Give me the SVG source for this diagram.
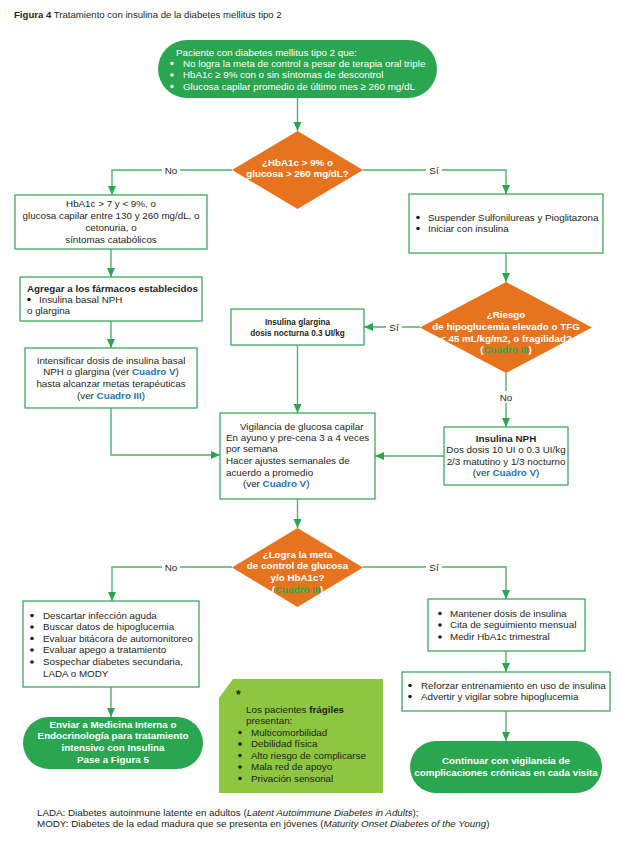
<svg xmlns="http://www.w3.org/2000/svg" width="622" height="847" viewBox="0 0 622 847">
<style>
text{font-family:"Liberation Sans",Arial,sans-serif;font-size:9.8px;fill:#231f20}
.t{font-size:9.6px}
.w{fill:#ffffff}
.b{font-weight:bold}
.c{text-anchor:middle}
.blue{fill:#1c75bc;font-weight:bold}
.grn{fill:#2fa84f;font-weight:bold}
.box{fill:#ffffff;stroke:#3daa5c;stroke-width:1.3}
.pill{fill:#2aa650}
.dia{fill:#e8731f}
.lime{fill:#8dc63f}
.con{fill:none;stroke:#4cb46a;stroke-width:1.4}
.dot{fill:#231f20}
.wdot{fill:#ffffff}
</style>
<defs>
<marker id="ah" markerUnits="userSpaceOnUse" markerWidth="10" markerHeight="10" viewBox="0 0 10 10" refX="9" refY="5" orient="auto">
<path d="M0,1 L9,5 L0,9 Z" fill="#2aa650"/>
</marker>
</defs>
<text class="t" x="14" y="18"><tspan class="b">Figura 4</tspan> Tratamiento con insulina de la diabetes mellitus tipo 2</text>

<g id="connectors">
<path class="con" d="M297.5,98 V131" marker-end="url(#ah)"/>
<path class="con" d="M232,170 H180 M162,170 H112 V195" marker-end="url(#ah)"/>
<path class="con" d="M363,170 H426 M442,170 H506 V194" marker-end="url(#ah)"/>
<path class="con" d="M111,249 V277" marker-end="url(#ah)"/>
<path class="con" d="M111,321 V348" marker-end="url(#ah)"/>
<path class="con" d="M506,253 V282" marker-end="url(#ah)"/>
<path class="con" d="M420,327 H402 M386,327 H364" marker-end="url(#ah)"/>
<path class="con" d="M506,373 V391 M506,403 V427" marker-end="url(#ah)"/>
<path class="con" d="M297.5,345 V413" marker-end="url(#ah)"/>
<path class="con" d="M111,408 V455 H220" marker-end="url(#ah)"/>
<path class="con" d="M444,456 H375" marker-end="url(#ah)"/>
<path class="con" d="M297.5,499 V528" marker-end="url(#ah)"/>
<path class="con" d="M232,567 H180 M162,567 H112 V601" marker-end="url(#ah)"/>
<path class="con" d="M363,567 H426 M442,567 H506 V599" marker-end="url(#ah)"/>
<path class="con" d="M506,651 V672" marker-end="url(#ah)"/>
<path class="con" d="M506,711 V741" marker-end="url(#ah)"/>
<path class="con" d="M111,687 V717" marker-end="url(#ah)"/>
<text class="c" x="171" y="173.5">No</text>
<text class="c" x="434" y="173.5">Sí</text>
<text class="c" x="394" y="330.5">Sí</text>
<text class="c" x="506" y="400.5">No</text>
<text class="c" x="171" y="570.5">No</text>
<text class="c" x="434" y="570.5">Sí</text>
</g>

<g id="start">
<rect class="pill" x="158" y="40" width="279" height="58" rx="29"/>
<text class="w" x="176" y="55.5">Paciente con diabetes mellitus tipo 2 que:</text>
<circle class="wdot" cx="172" cy="63.5" r="1.8"/>
<circle class="wdot" cx="172" cy="75" r="1.8"/>
<circle class="wdot" cx="172" cy="86.5" r="1.8"/>
<text class="w" x="183" y="66.5">No logra la meta de control a pesar de terapia oral triple</text>
<text class="w" x="183" y="78">HbA1c ≥ 9% con o sin síntomas de descontrol</text>
<text class="w" x="183" y="89.5">Glucosa capilar promedio de último mes ≥ 260 mg/dL</text>
</g>

<g id="d1">
<polygon class="dia" points="297.5,131 363,170 297.5,209 232,170"/>
<text class="w b c" x="297.5" y="165.5">¿HbA1c &gt; 9% o</text>
<text class="w b c" x="297.5" y="177">glucosa &gt; 260 mg/dL?</text>
</g>

<g id="no1">
<rect class="box" x="15" y="195" width="192" height="54"/>
<text class="c" x="111" y="207">HbA1c &gt; 7 y &lt; 9%, o</text>
<text class="c" x="111" y="219">glucosa capilar entre 130 y 260 mg/dL, o</text>
<text class="c" x="111" y="231">cetonuria, o</text>
<text class="c" x="111" y="242.5">síntomas catabólicos</text>
</g>

<g id="si1">
<rect class="box" x="409" y="194" width="194" height="59"/>
<circle class="dot" cx="418" cy="217.5" r="1.8"/>
<circle class="dot" cx="418" cy="228.5" r="1.8"/>
<text x="428" y="220.5">Suspender Sulfonilureas y Pioglitazona</text>
<text x="428" y="231.5">Iniciar con insulina</text>
</g>

<g id="agregar">
<rect class="box" x="20" y="277" width="182" height="44"/>
<text class="b" x="27" y="291.5">Agregar a los fármacos establecidos</text>
<circle class="dot" cx="29" cy="299.5" r="1.8"/>
<text x="39" y="302.5">Insulina basal NPH</text>
<text x="27" y="314">o glargina</text>
</g>

<g id="intensificar">
<rect class="box" x="25" y="348" width="172" height="60"/>
<text class="c" x="111" y="363.5">Intensificar dosis de insulina basal</text>
<text class="c" x="111" y="375">NPH o glargina (ver <tspan class="blue">Cuadro V</tspan>)</text>
<text class="c" x="111" y="387">hasta alcanzar metas terapéuticas</text>
<text class="c" x="111" y="399">(ver <tspan class="blue">Cuadro III</tspan>)</text>
</g>

<g id="glargina">
<rect class="box" x="231" y="309" width="133" height="36"/>
<text class="b c" x="297.5" y="325" style="font-size:8.2px">Insulina glargina</text>
<text class="b c" x="297.5" y="335.5" style="font-size:8.2px">dosis nocturna 0.3 UI/kg</text>
</g>

<g id="d2">
<polygon class="dia" points="506,282 592,327.5 506,373 420,327.5"/>
<text class="w b c" x="506" y="317.5">¿Riesgo</text>
<text class="w b c" x="506" y="330">de hipoglucemia elevado o TFG</text>
<text class="w b c" x="506" y="341.5">&lt; 45 mL/kg/m2, o fragilidad?</text>
<text class="w b c" x="506" y="353">(<tspan class="grn">Cuadro III</tspan>)</text>
</g>

<g id="vigilancia">
<rect class="box" x="220" y="413" width="155" height="86"/>
<text x="240" y="429.5">Vigilancia de glucosa capilar</text>
<text x="226" y="440.5">En ayuno y pre-cena 3 a 4 veces</text>
<text x="226" y="452">por semana</text>
<text x="226" y="464">Hacer ajustes semanales de</text>
<text x="226" y="475.5">acuerdo a promedio</text>
<text x="243" y="487">(ver <tspan class="blue">Cuadro V</tspan>)</text>
</g>

<g id="nph">
<rect class="box" x="444" y="427" width="124" height="58"/>
<text class="b c" x="506" y="441.5">Insulina NPH</text>
<text class="c" x="506" y="453">Dos dosis 10 UI o 0.3 UI/kg</text>
<text class="c" x="506" y="464.5">2/3 matutino y 1/3 nocturno</text>
<text class="c" x="506" y="476">(ver <tspan class="blue">Cuadro V</tspan>)</text>
</g>

<g id="d3">
<polygon class="dia" points="297.5,528 363,567.5 297.5,607 232,567.5"/>
<text class="w b c" x="297.5" y="557.5">¿Logra la meta</text>
<text class="w b c" x="297.5" y="569">de control de glucosa</text>
<text class="w b c" x="297.5" y="581">y/o HbA1c?</text>
<text class="w b c" x="297.5" y="592.5">(<tspan class="grn">Cuadro III</tspan>)</text>
</g>

<g id="no3">
<rect class="box" x="23" y="601" width="176" height="86"/>
<circle class="dot" cx="32" cy="615.5" r="1.8"/>
<circle class="dot" cx="32" cy="627" r="1.8"/>
<circle class="dot" cx="32" cy="638.5" r="1.8"/>
<circle class="dot" cx="32" cy="650" r="1.8"/>
<circle class="dot" cx="32" cy="662" r="1.8"/>
<text x="43" y="618.5">Descartar infección aguda</text>
<text x="43" y="630">Buscar datos de hipoglucemia</text>
<text x="43" y="641.5">Evaluar bitácora de automonitoreo</text>
<text x="43" y="653">Evaluar apego a tratamiento</text>
<text x="43" y="665">Sospechar diabetes secundaria,</text>
<text x="43" y="676.5">LADA o MODY</text>
</g>

<g id="si3">
<rect class="box" x="428" y="599" width="157" height="52"/>
<circle class="dot" cx="440" cy="613.5" r="1.8"/>
<circle class="dot" cx="440" cy="625" r="1.8"/>
<circle class="dot" cx="440" cy="637" r="1.8"/>
<text x="450" y="616.5">Mantener dosis de insulina</text>
<text x="450" y="628">Cita de seguimiento mensual</text>
<text x="450" y="640">Medir HbA1c trimestral</text>
</g>

<g id="reforzar">
<rect class="box" x="402" y="672" width="208" height="39"/>
<circle class="dot" cx="410" cy="685.5" r="1.8"/>
<circle class="dot" cx="410" cy="696.5" r="1.8"/>
<text x="421" y="688.5">Reforzar entrenamiento en uso de insulina</text>
<text x="421" y="699.5">Advertir y vigilar sobre hipoglucemia</text>
</g>

<g id="enviar">
<rect class="pill" x="23" y="717" width="180" height="52" rx="26"/>
<text class="w b c" x="113" y="727.5">Enviar a Medicina Interna o</text>
<text class="w b c" x="113" y="739">Endocrinología para tratamiento</text>
<text class="w b c" x="113" y="751">intensivo con Insulina</text>
<text class="w b c" x="113" y="762.5">Pase a Figura 5</text>
</g>

<g id="continuar">
<rect class="pill" x="410" y="741" width="192" height="52" rx="26"/>
<text class="w b c" x="506" y="763.5">Continuar con vigilancia de</text>
<text class="w b c" x="506" y="775.5">complicaciones crónicas en cada visita</text>
</g>

<g id="fragiles">
<polygon class="lime" points="233,679 383,679 383,793 219,793 219,698"/>
<text class="b" x="236" y="699" style="font-size:12px">*</text>
<text x="246" y="712.5">Los pacientes <tspan class="b">frágiles</tspan></text>
<text x="246" y="724">presentan:</text>
<circle class="dot" cx="240" cy="732.5" r="1.8"/>
<circle class="dot" cx="240" cy="744" r="1.8"/>
<circle class="dot" cx="240" cy="755.5" r="1.8"/>
<circle class="dot" cx="240" cy="767" r="1.8"/>
<circle class="dot" cx="240" cy="778.5" r="1.8"/>
<text x="251" y="735.5">Multicomorbilidad</text>
<text x="251" y="747">Debilidad física</text>
<text x="251" y="758.5">Alto riesgo de complicarse</text>
<text x="251" y="770">Mala red de apoyo</text>
<text x="251" y="781.5">Privación sensorial</text>
</g>

<text x="37" y="815.5">LADA: Diabetes autoinmune latente en adultos (<tspan font-style="italic">Latent Autoimmune Diabetes in Adults</tspan>);</text>
<text x="37" y="827">MODY: Diabetes de la edad madura que se presenta en jóvenes (<tspan font-style="italic">Maturity Onset Diabetes of the Young</tspan>)</text>
</svg>
